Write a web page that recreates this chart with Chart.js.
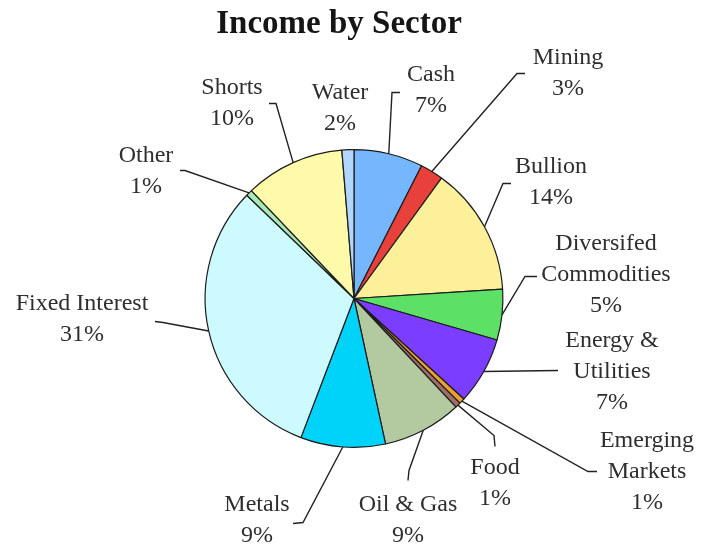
<!DOCTYPE html>
<html>
<head>
<meta charset="utf-8">
<title>Income by Sector</title>
<script src="https://cdn.jsdelivr.net/npm/chart.js@4/dist/chart.umd.min.js"></script>
<style>
  html, body { margin: 0; padding: 0; background: #fff; }
  #wrap { width: 706px; height: 547px; position: relative; }
</style>
</head>
<body>
<div id="wrap"><canvas id="sectorChart"></canvas></div>
<script>
// slice order runs clockwise from 12 o'clock
const sectors = ['Cash', 'Mining', 'Bullion', 'Diversifed Commodities', 'Energy & Utilities',
  'Emerging Markets', 'Food', 'Oil & Gas', 'Metals', 'Fixed Interest', 'Other', 'Shorts', 'Water'];
const shares = [7.5, 2.5, 14.0, 5.5, 7.3, 0.6, 0.6, 8.6, 9.2, 31.4, 0.7, 10.8, 1.3];
const percentLabels = ['7%', '3%', '14%', '5%', '7%', '1%', '1%', '9%', '9%', '31%', '1%', '10%', '2%'];
const labelLines = [['Cash'], ['Mining'], ['Bullion'], ['Diversifed', 'Commodities'], ['Energy &', 'Utilities'],
  ['Emerging', 'Markets'], ['Food'], ['Oil & Gas'], ['Metals'], ['Fixed Interest'], ['Other'], ['Shorts'], ['Water']];
const chartTitle = 'Income by Sector';

const sliceColors = ['#76b6fd', '#e8413b', '#fdf09b', '#5ce066', '#7b3dff', '#eba132', '#a06d66',
  '#b3c99f', '#00d3fa', '#ccfaff', '#a9e8b9', '#fffaa9', '#b1d6ff'];

// label placement relative to the pie centre: text anchor, leader elbow, leader end
const labelLayout = [
  { text: [77, -224], elbow: [38, -206], end: [46, -206] },
  { text: [214, -241], elbow: [163, -225], end: [171, -225] },
  { text: [197, -132], elbow: [149, -115], end: [157, -115] },
  { text: [252, -55], elbow: [171, -22], end: [183, -22] },
  { text: [258, 42], elbow: [204, 72], end: [204, 72] },
  { text: [293, 142], elbow: [234, 173], end: [243, 173] },
  { text: [141, 169], elbow: [140, 137], end: [141, 148] },
  { text: [54, 206], elbow: [55, 172], end: [54, 182] },
  { text: [-97, 206], elbow: [-51, 224], end: [-61, 225] },
  { text: [-272, 5], elbow: [-191, 24], end: [-199, 23] },
  { text: [-208, -143], elbow: [-169, -128], end: [-174, -128] },
  { text: [-122, -211], elbow: [-78, -195], end: [-85, -195] },
  { text: [-14, -206], elbow: null, end: null }
];

const SERIF = '"Liberation Serif", "DejaVu Serif", serif';
const LABEL_FONT = '24px ' + SERIF;
const LINE_GAP = 31;

const sectorLabels = {
  id: 'sectorLabels',
  afterDatasetsDraw(chart) {
    const ctx = chart.ctx;
    const arcs = chart.getDatasetMeta(0).data;
    ctx.save();
    arcs.forEach((arc, i) => {
      const p = arc.getProps(['x', 'y', 'startAngle', 'endAngle', 'outerRadius'], true);
      const lay = labelLayout[i];
      if (lay.elbow) {
        const mid = (p.startAngle + p.endAngle) / 2;
        ctx.beginPath();
        ctx.moveTo(p.x + Math.cos(mid) * p.outerRadius, p.y + Math.sin(mid) * p.outerRadius);
        ctx.lineTo(p.x + lay.elbow[0], p.y + lay.elbow[1]);
        ctx.lineTo(p.x + lay.end[0], p.y + lay.end[1]);
        ctx.strokeStyle = '#222';
        ctx.lineWidth = 1.4;
        ctx.stroke();
      }
      const lines = labelLines[i].concat([percentLabels[i]]);
      ctx.font = LABEL_FONT;
      ctx.fillStyle = '#2e2e2e';
      ctx.textAlign = 'center';
      ctx.textBaseline = 'middle';
      lines.forEach((t, k) => {
        ctx.fillText(t, p.x + lay.text[0], p.y + lay.text[1] + k * LINE_GAP);
      });
    });

    // title sits a little left of the pie centre, as in the source
    const area = chart.chartArea;
    ctx.font = 'bold 33px ' + SERIF;
    ctx.fillStyle = '#151515';
    ctx.textAlign = 'center';
    ctx.textBaseline = 'middle';
    ctx.fillText(chartTitle, (area.left + area.right) / 2 - 15, 24);
    ctx.restore();
  }
};

new Chart(document.getElementById('sectorChart'), {
  type: 'pie',
  data: {
    labels: sectors,
    datasets: [{
      data: shares,
      backgroundColor: sliceColors,
      borderColor: '#1c1c1c',
      borderWidth: 1.2
    }]
  },
  options: {
    responsive: true,
    maintainAspectRatio: false,
    animation: false,
    layout: { padding: { top: 149, bottom: 99, left: 204, right: 202 } },
    plugins: {
      legend: { display: false },
      tooltip: { enabled: false },
      title: { display: false }
    }
  },
  plugins: [sectorLabels]
});
</script>
</body>
</html>
